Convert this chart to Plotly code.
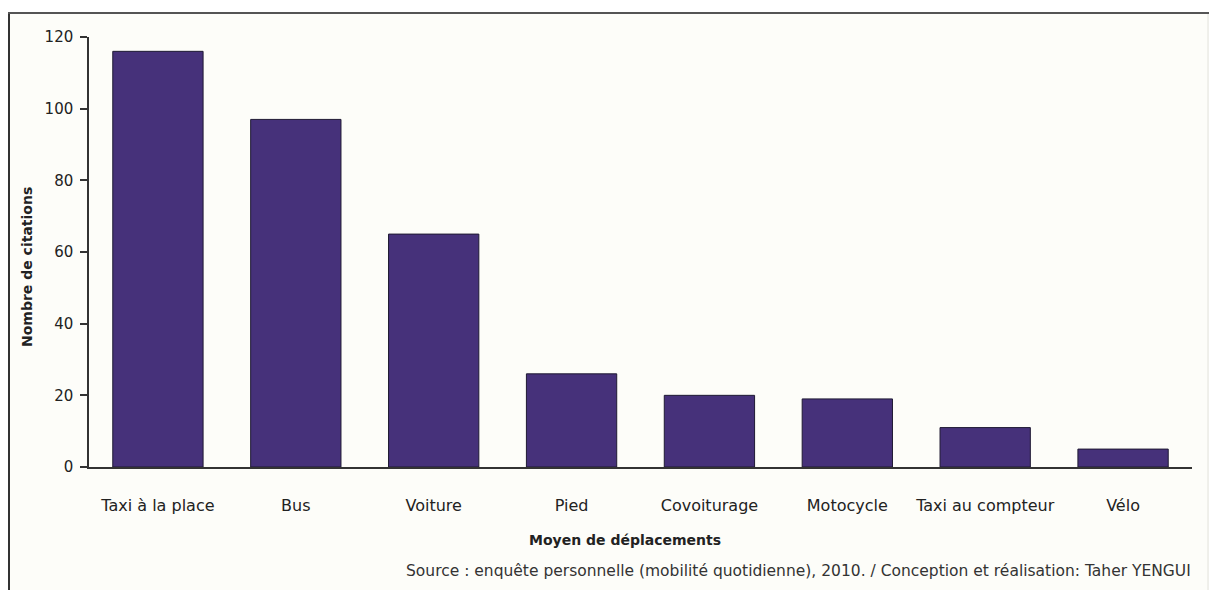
import plotly.graph_objects as go

categories = ["Taxi à la place", "Bus", "Voiture", "Pied", "Covoiturage",
              "Motocycle", "Taxi au compteur", "Vélo"]
citations = [116, 97, 65, 26, 20, 19, 11, 5]
y_ticks = [0, 20, 40, 60, 80, 100, 120]

# page body has an 8px margin: figure pixel = reference pixel - 8
OFF = 8
W, H = 1209 - OFF, 590 - OFF
L = 89 - OFF
R = W - (1192 - OFF)
T = 37 - OFF
B = H - (467 - OFF)
pw = W - L - R
ph = H - T - B


def px_x(p):
    return (p - OFF - L) / pw


def px_y(p):
    return (H - B - (p - OFF)) / ph


FONT = "DejaVu Sans"
BG = "#fdfdf9"

fig = go.Figure(go.Bar(
    x=categories, y=citations,
    marker=dict(color="#46317a", line=dict(color="#1f1a33", width=1)),
    width=0.655,
))

fig.update_layout(
    width=W, height=H, autosize=False,
    margin=dict(l=L, r=R, t=T, b=B),
    paper_bgcolor="#ffffff", plot_bgcolor=BG,
    showlegend=False,
    font=dict(family=FONT, size=15, color="#222"),
)
fig.update_xaxes(
    showline=True, linecolor="#333", linewidth=1.5,
    ticks="", showgrid=False, zeroline=False,
    tickfont=dict(family=FONT, size=16, color="#222"),
    ticklabelstandoff=23,
)
fig.update_yaxes(
    range=[0, 120], tickvals=y_ticks,
    showline=True, linecolor="#333", linewidth=1.5,
    ticks="outside", ticklen=7, tickcolor="#333", tickwidth=1.5,
    showgrid=False, zeroline=False,
    tickfont=dict(family=FONT, size=15, color="#222"),
    ticklabelstandoff=4,
)

# background frame (off-white area with dark top/left border)
fig.add_shape(type="rect", xref="paper", yref="paper", layer="below",
              x0=px_x(8), x1=px_x(1209), y0=px_y(13), y1=px_y(600),
              fillcolor=BG, line=dict(width=0))
fig.add_shape(type="line", xref="paper", yref="paper",
              x0=px_x(9), x1=px_x(9), y0=px_y(13), y1=px_y(600),
              line=dict(color="#333", width=2))
fig.add_shape(type="line", xref="paper", yref="paper",
              x0=px_x(8), x1=px_x(1217), y0=px_y(13), y1=px_y(13),
              line=dict(color="#555", width=2))
fig.add_shape(type="line", xref="paper", yref="paper",
              x0=px_x(1208), x1=px_x(1208), y0=px_y(14), y1=px_y(600),
              line=dict(color="#e2e2dc", width=1))

fig.add_annotation(text="<b>Moyen de déplacements</b>", xref="paper", yref="paper",
                   x=px_x(625), y=px_y(540), xanchor="center", yanchor="middle",
                   showarrow=False, font=dict(family=FONT, size=14, color="#222"))
fig.add_annotation(text="<b>Nombre de citations</b>", xref="paper", yref="paper",
                   x=px_x(27), y=px_y(267), xanchor="center", yanchor="middle",
                   textangle=-90, showarrow=False,
                   font=dict(family=FONT, size=14, color="#222"))
fig.add_annotation(text="Source : enquête personnelle (mobilité quotidienne), 2010. / Conception et réalisation: Taher YENGUI",
                   xref="paper", yref="paper", x=px_x(1193), y=px_y(571),
                   xanchor="right", yanchor="middle", showarrow=False,
                   font=dict(family=FONT, size=15.5, color="#333"))

fig.write_html("out.html")
